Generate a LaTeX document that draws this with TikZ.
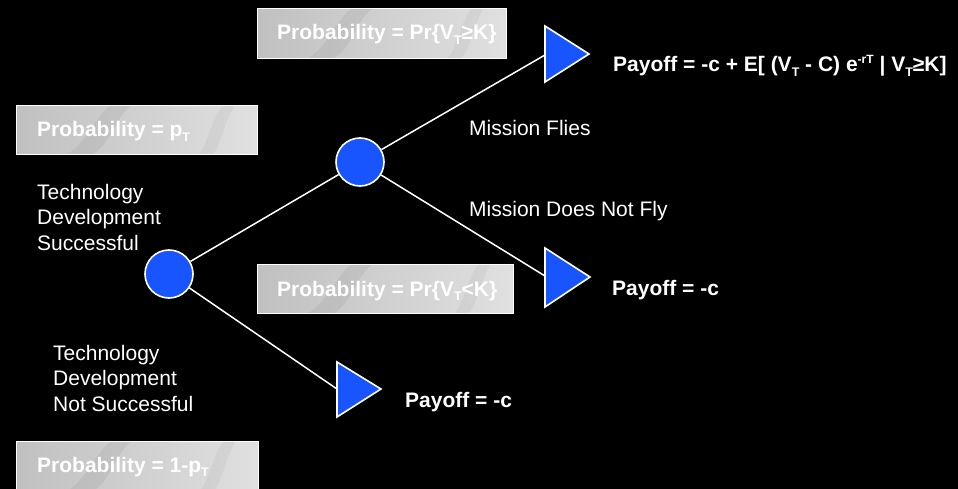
\documentclass[tikz,border=0pt]{standalone}
\usepackage{fontspec}
\setmainfont{Liberation Sans}
\usetikzlibrary{calc}

\definecolor{nodeblue}{RGB}{25,85,255}
\definecolor{marbledark}{RGB}{192,192,192}
\definecolor{marblemid}{RGB}{210,210,210}
\definecolor{marblelight}{RGB}{224,224,224}
\definecolor{veining}{RGB}{150,150,150}

% small lowered / raised text for indices
\newcommand\lowidx[1]{\raisebox{-0.22em}{\fontsize{12.5}{12.5}\selectfont #1}}
\newcommand\highidx[1]{\raisebox{0.42em}{\fontsize{12}{12}\selectfont #1}}

\begin{document}
\begin{tikzpicture}[x=1pt,y=-1pt,
  every node/.style={font=\fontsize{21}{25.5}\selectfont, text=white, inner sep=0pt},
  probbox/.style={draw=white, line width=1.2pt, left color=marbledark, middle color=marblemid,
                  right color=marblelight, anchor=north west,
                  path picture={
                    % soft marble veins
                    \fill[veining, opacity=0.2]
                      ($(path picture bounding box.south west)+(30pt,-2pt)$)
                      .. controls +(40pt,-10pt) and +(-30pt,8pt) .. ($(path picture bounding box.north west)+(110pt,4pt)$)
                      -- ($(path picture bounding box.north west)+(135pt,2pt)$)
                      .. controls +(-40pt,12pt) and +(40pt,-6pt) .. ($(path picture bounding box.south west)+(60pt,-2pt)$)
                      -- cycle;
                    \fill[veining, opacity=0.12]
                      ($(path picture bounding box.south east)+(-70pt,-3pt)$)
                      .. controls +(20pt,-12pt) and +(-20pt,10pt) .. ($(path picture bounding box.north east)+(-25pt,3pt)$)
                      -- ($(path picture bounding box.north east)+(-12pt,3pt)$)
                      .. controls +(-20pt,12pt) and +(20pt,-10pt) .. ($(path picture bounding box.south east)+(-55pt,-3pt)$)
                      -- cycle;
                  }},
  probtext/.style={font=\fontsize{21}{25.5}\selectfont\bfseries, anchor=base west},
  label/.style={anchor=base west},
  payoff/.style={font=\fontsize{21}{25.5}\selectfont\bfseries, anchor=base west},
  chance/.style={circle, draw=white, line width=1.6pt, fill=nodeblue, minimum size=48pt},
  endnode/.style={draw=white, line width=1.6pt, fill=nodeblue, line join=miter},
  branch/.style={draw=white, line width=1.5pt}
]
% background and page size
\fill[black] (0,0) rectangle (958,489);
\useasboundingbox (0,0) rectangle (958,489);

% probability boxes
\node[probbox, minimum width=249pt, minimum height=50pt] (b1) at (257,8) {};
\node[probbox, minimum width=241pt, minimum height=49pt] (b2) at (16,105) {};
\node[probbox, minimum width=256pt, minimum height=49pt] (b3) at (257,264) {};
\node[probbox, minimum width=242pt, minimum height=50pt] (b4) at (16,441) {};

\node[probtext] (p1) at (277,40) {Probability = Pr\{V\lowidx{T}≥K\}};
\node[probtext] (p2) at (37,137) {Probability = p\lowidx{T}};
\node[probtext] (p3) at (277,296) {Probability = Pr\{V\lowidx{T}<K\}};
\node[probtext] (p4) at (37,472) {Probability = 1-p\lowidx{T}};

% chance nodes
\node[chance] (c1) at (169,274) {};
\node[chance] (c2) at (360,162) {};

% entry points of the end nodes
\coordinate (t1) at (545,55);
\coordinate (t2) at (545,276);
\coordinate (t3) at (337,389);

% branches
\draw[branch] (c1) -- (c2);
\draw[branch] (c1) -- (t3);
\draw[branch] (c2) -- (t1);
\draw[branch] (c2) -- (t2);

% end nodes
\draw[endnode] (545,26) -- (545,82) -- (589,54) -- cycle;
\draw[endnode] (545,248) -- (545,307) -- (590,277) -- cycle;
\draw[endnode] (337,362) -- (337,417) -- (381,389) -- cycle;

% payoffs
\node[payoff] (pay1) at (613,72) {Payoff = -c + E[ (V\lowidx{T} - C) e\highidx{-rT} | V\lowidx{T}≥K]};
\node[payoff] (pay2) at (612,295) {Payoff = -c};
\node[payoff] (pay3) at (405,407) {Payoff = -c};

% branch labels
\node[label] (mf) at (469,136) {Mission Flies};
\node[label] (mn) at (469,216) {Mission Does Not Fly};

% multi-line labels: the base anchor sits on the last line
\node[label, align=left] (ts) at (37,250) {Technology\\Development\\Successful};
\node[label, align=left] (tn) at (53,411) {Technology\\Development\\Not Successful};
\end{tikzpicture}
\end{document}
